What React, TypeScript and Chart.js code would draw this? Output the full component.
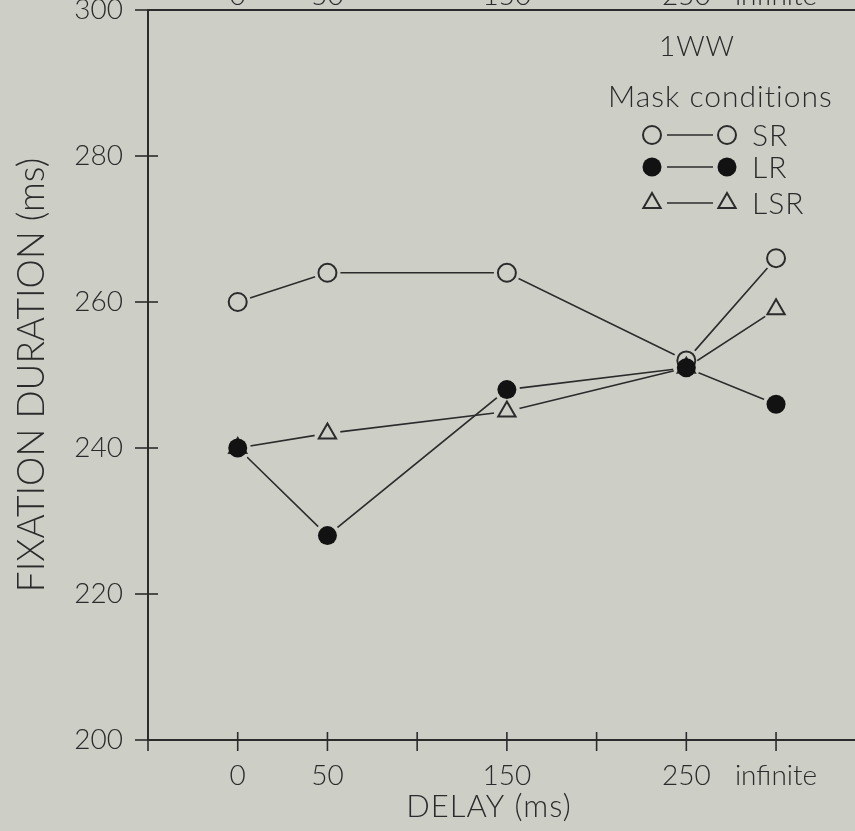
import React, { useEffect, useRef } from "react";
import { Chart, registerables } from "chart.js";
Chart.register(...registerables);

// ---- data ----
const delays = [0, 50, 150, 250, 300];
const delayLabels = ["0", "50", "150", "250", "infinite"];
const srValues = [260, 264, 264, 252, 266];
const lrValues = [240, 228, 248, 251, 246];
const lsrValues = [240, 242, 245, 251, 259];
const xTickValues = [-50, 0, 50, 100, 150, 200, 250, 300];
const yTickValues = [200, 220, 240, 260, 280, 300];
const seriesNames = ["SR", "LR", "LSR"];
const panelTitle = "1WW";
const legendTitle = "Mask conditions";
const xTitle = "DELAY (ms)";
const yTitle = "FIXATION DURATION (ms)";

// ---- style ----
const BG = "#cdcfc7";
const INK = "#2b2b2b";
const FONT = "Lato, 'DejaVu Sans', sans-serif";
const W = 868;
const H = 871;
const OFF = 40;

const xLabel = (v: number) => {
  const i = delays.indexOf(v);
  return i >= 0 ? delayLabels[i] : "";
};

const pts = (vals: number[]) => delays.map((d, i) => ({ x: d, y: vals[i] }));

function drawMarker(ctx: CanvasRenderingContext2D, kind: number, x: number, y: number) {
  ctx.save();
  ctx.lineWidth = 2;
  ctx.strokeStyle = INK;
  if (kind === 0) {
    ctx.beginPath();
    ctx.arc(x, y, 9, 0, Math.PI * 2);
    ctx.fillStyle = BG;
    ctx.fill();
    ctx.stroke();
  } else if (kind === 1) {
    ctx.beginPath();
    ctx.arc(x, y, 9.5, 0, Math.PI * 2);
    ctx.fillStyle = "#121212";
    ctx.fill();
  } else {
    const r = 10;
    ctx.beginPath();
    for (let k = 0; k < 3; k++) {
      const a = (k * 2 * Math.PI) / 3;
      const px = x + Math.sin(a) * r;
      const py = y - Math.cos(a) * r;
      if (k === 0) ctx.moveTo(px, py);
      else ctx.lineTo(px, py);
    }
    ctx.closePath();
    ctx.fillStyle = BG;
    ctx.fill();
    ctx.stroke();
  }
  ctx.restore();
}

const tickMarks = {
  id: "tickMarks",
  beforeDatasetsDraw(chart: any) {
    const { ctx } = chart;
    const xs = chart.scales.x;
    const ys = chart.scales.y;
    ctx.save();
    ctx.strokeStyle = INK;
    ctx.lineWidth = 1.6;
    xTickValues.forEach((v) => {
      const px = xs.getPixelForValue(v);
      ctx.beginPath();
      ctx.moveTo(px, xs.top - 8);
      ctx.lineTo(px, xs.top + 11);
      ctx.stroke();
    });
    yTickValues.forEach((v) => {
      const py = ys.getPixelForValue(v);
      ctx.beginPath();
      ctx.moveTo(ys.right - 13, py);
      ctx.lineTo(ys.right + 10, py);
      ctx.stroke();
    });
    ctx.restore();
  },
};

const legendPlugin = {
  id: "customLegend",
  afterDraw(chart: any) {
    const { ctx } = chart;
    const xs = chart.scales.x;
    ctx.save();
    ctx.fillStyle = INK;
    ctx.textBaseline = "middle";
    ctx.textAlign = "center";
    ctx.font = `300 28px ${FONT}`;
    (ctx as any).letterSpacing = "1px";
    ctx.fillText(panelTitle, 697, 47 + OFF);
    ctx.font = `300 31px ${FONT}`;
    ctx.fillText(xTitle, xs.getPixelForValue(140), 807 + OFF);
    ctx.textAlign = "left";
    ctx.font = `300 30px ${FONT}`;
    ctx.fillText(legendTitle, 608, 97 + OFF);
    const rows = [135, 167, 203];
    seriesNames.forEach((name, i) => {
      const y = rows[i] + OFF;
      ctx.strokeStyle = INK;
      ctx.lineWidth = 1.6;
      ctx.beginPath();
      ctx.moveTo(667, y);
      ctx.lineTo(713, y);
      ctx.stroke();
      drawMarker(ctx, i, 652, y);
      drawMarker(ctx, i, 727, y);
      ctx.fillStyle = INK;
      ctx.fillText(name, 752, y + 1);
    });
    ctx.restore();
  },
};

const tickFont = { family: FONT, size: 28, weight: "300" };

export default function App() {
  const ref = useRef<HTMLCanvasElement>(null);
  useEffect(() => {
    const canvas = ref.current!;
    const lineDs = (vals: number[], order: number) => ({
      data: pts(vals),
      borderColor: INK,
      borderWidth: 1.6,
      pointRadius: 13,
      pointBackgroundColor: BG,
      pointBorderWidth: 0,
      pointBorderColor: BG,
      fill: false,
      tension: 0,
      order,
    });
    const markerDs = (vals: number[], kind: number, order: number) => ({
      data: pts(vals),
      showLine: false,
      pointStyle: kind === 2 ? "triangle" : "circle",
      pointRadius: kind === 2 ? 10 : kind === 1 ? 9.5 : 9,
      pointBorderWidth: kind === 1 ? 0 : 2,
      pointBorderColor: INK,
      pointBackgroundColor: kind === 1 ? "#121212" : BG,
      order,
    });
    const fitX = (h: number) => (s: any) => {
      s.height = h;
      s.paddingLeft = 0;
      s.paddingRight = 0;
    };
    const chart = new Chart(canvas, {
      type: "line",
      data: {
        datasets: [
          lineDs(srValues, 12),
          lineDs(lrValues, 11),
          lineDs(lsrValues, 10),
          markerDs(srValues, 0, 3),
          markerDs(lsrValues, 2, 2),
          markerDs(lrValues, 1, 1),
        ] as any,
      },
      options: {
        animation: false,
        responsive: false,
        devicePixelRatio: 1,
        layout: { padding: 0 },
        plugins: { legend: { display: false }, tooltip: { enabled: false } },
        scales: {
          x: {
            type: "linear",
            position: "bottom",
            min: -50,
            max: 344,
            afterBuildTicks: (s: any) => {
              s.ticks = xTickValues.map((v) => ({ value: v }));
            },
            afterFit: fitX(H - (740 + OFF)),
            grid: { display: false },
            border: { display: true, color: INK, width: 2 },
            ticks: {
              callback: (v: any) => xLabel(Number(v)),
              padding: 11,
              font: tickFont,
              color: INK,
              autoSkip: false,
              maxRotation: 0,
            },
          },
          xTop: {
            type: "linear",
            position: "top",
            min: -50,
            max: 344,
            afterBuildTicks: (s: any) => {
              s.ticks = xTickValues.map((v) => ({ value: v }));
            },
            afterFit: fitX(10 + OFF),
            grid: { display: false },
            border: { display: true, color: INK, width: 2 },
            ticks: {
              callback: (v: any) => xLabel(Number(v)),
              padding: -11,
              font: tickFont,
              color: INK,
              autoSkip: false,
              maxRotation: 0,
            },
          },
          y: {
            type: "linear",
            position: "left",
            min: 200,
            max: 300,
            afterBuildTicks: (s: any) => {
              s.ticks = yTickValues.map((v) => ({ value: v }));
            },
            afterFit: (s: any) => {
              s.width = 148;
            },
            grid: { display: false },
            border: { display: true, color: INK, width: 2 },
            ticks: {
              padding: 17,
              font: tickFont,
              color: INK,
            },
            title: {
              display: true,
              text: yTitle,
              font: { family: FONT, size: 37, weight: "300" },
              color: INK,
              padding: { top: 10, bottom: 0 },
            },
          },
        },
      } as any,
      plugins: [tickMarks, legendPlugin],
    });
    return () => chart.destroy();
  }, []);
  return (
    <div
      style={{
        position: "fixed",
        left: 0,
        top: 0,
        width: 855,
        height: 831,
        overflow: "hidden",
        background: BG,
      }}
    >
      <canvas
        ref={ref}
        width={W}
        height={H}
        style={{ position: "absolute", left: 0, top: -OFF, width: W, height: H }}
      />
    </div>
  );
}
